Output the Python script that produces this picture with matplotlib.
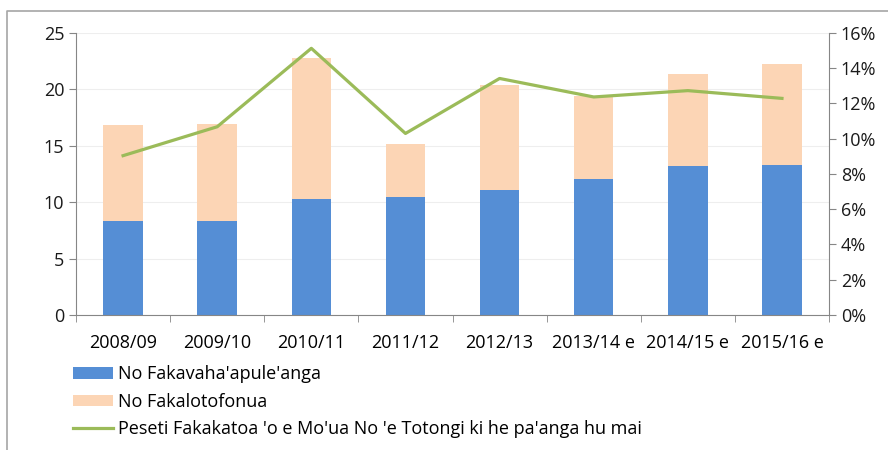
import numpy as np
import matplotlib.pyplot as plt
from matplotlib.lines import Line2D
from matplotlib.ticker import FuncFormatter

plt.rcParams['font.family'] = ['Open Sans', 'DejaVu Sans']

# Data
years = ['2008/09', '2009/10', '2010/11', '2011/12', '2012/13',
         '2013/14 e', '2014/15 e', '2015/16 e']
fakavaha = [8.33, 8.33, 10.3, 10.43, 11.08, 12.08, 13.2, 13.3]
totals = [16.8, 16.93, 22.8, 15.16, 20.4, 19.4, 21.37, 22.28]
fakaloto = [t - f for t, f in zip(totals, fakavaha)]
peseti = [9.04, 10.68, 15.13, 10.3, 13.42, 12.37, 12.73, 12.29]

blue = '#558ED5'
peach = '#FCD5B5'
green = '#9BBB59'
axis_col = '#868686'

fig = plt.figure(figsize=(8.88, 4.5), dpi=100)
ax = fig.add_axes([0.0856, 0.30, 0.848, 0.6267])
x = np.arange(len(years))

b1 = ax.bar(x, fakavaha, width=0.42, color=blue, zorder=2)
b2 = ax.bar(x, fakaloto, width=0.42, bottom=fakavaha, color=peach, zorder=2)

ax.set_xlim(-0.5, len(years) - 0.5)
ax.set_ylim(0, 25)
ax.set_yticks(range(0, 26, 5))
ax.yaxis.grid(True, color='#EEEEEE', linewidth=0.8, zorder=0)
ax.set_axisbelow(True)

ax.set_xticks(x)
ax.set_xticklabels(years, fontsize=13, color='#000000', fontweight='medium')
ax.set_xticks(np.arange(-0.5, len(years)), minor=True)
ax.tick_params(axis='x', which='major', length=0, pad=14)
ax.tick_params(axis='x', which='minor', length=5, color=axis_col)
ax.tick_params(axis='y', length=5, color=axis_col, labelsize=13,
               labelcolor='#1a1a1a')

for s in ['top', 'right']:
    ax.spines[s].set_visible(False)
for s in ['left', 'bottom']:
    ax.spines[s].set_color(axis_col)

ax2 = ax.twinx()
line, = ax2.plot(x, peseti, color=green, linewidth=2.3, zorder=3)
ax2.set_ylim(0, 16)
ax2.set_yticks(range(0, 17, 2))
ax2.yaxis.set_major_formatter(FuncFormatter(lambda v, p: f'{v:.0f}%'))
ax2.tick_params(axis='y', length=5, color=axis_col, labelsize=13,
                labelcolor='#1a1a1a')
for s in ['top', 'left', 'bottom']:
    ax2.spines[s].set_visible(False)
ax2.spines['right'].set_color(axis_col)

fig.legend([b1, b2, line],
           ["No Fakavaha'apule'anga", 'No Fakalotofonua',
            "Peseti Fakakatoa 'o e Mo'ua No 'e Totongi ki he pa'anga hu mai"],
           loc='upper left', bbox_to_anchor=(0.072, 0.208), frameon=False,
           fontsize=13, handlelength=2.2, handleheight=0.6,
           handletextpad=0.28, labelspacing=0.52, borderpad=0)

# outer chart frame (only top and left edges are visible in the image)
fig.add_artist(Line2D([0.008, 0.008, 1.0], [0.0, 0.976, 0.976],
                      transform=fig.transFigure, color='#A6A6A6', linewidth=1.2))

fig.savefig('out.png', dpi=100)
